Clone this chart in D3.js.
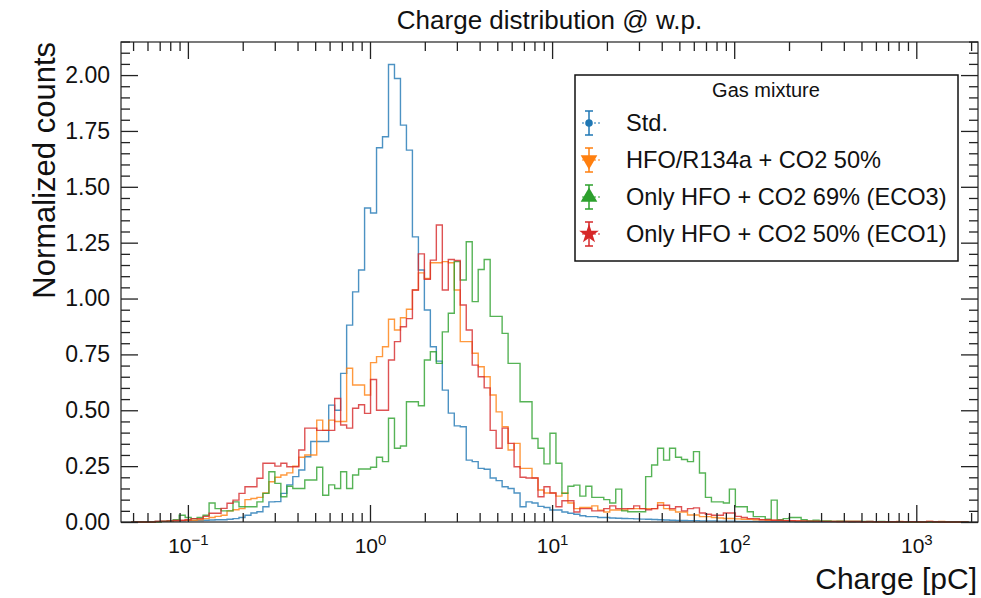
<!DOCTYPE html>
<html>
<head>
<meta charset="utf-8">
<script src="https://cdn.jsdelivr.net/npm/d3@7"></script>
<style>
  body { margin: 0; background: #fff; }
  svg text { font-family: "Liberation Sans", Arial, sans-serif; fill: #111; }
</style>
</head>
<body>
<div id="chart"></div>
<script>
// histogram binning (log10 of charge in pC)
var binLogStart = -1.3105;
var binLogStep = 0.03284;

var seriesNames = ["Std.", "HFO/R134a + CO2 50%", "Only HFO + CO2 69% (ECO3)", "Only HFO + CO2 50% (ECO1)"];
var seriesColors = ["#1f77b4", "#ff7f0e", "#2ca02c", "#d62728"];
var seriesMarkers = ["circle", "triangleDown", "triangleUp", "star"];

var yTicks = [0, 0.25, 0.5, 0.75, 1.0, 1.25, 1.5, 1.75, 2.0];
var xTickExps = [-1, 0, 1, 2, 3];

var stdCounts = [
  0, 0, 0, 0, 0.003, 0.003, 0.004, 0.005, 0.005, 0.006,
  0.006, 0.007, 0.008, 0.009, 0.01, 0.01, 0.012, 0.015, 0.02, 0.03,
  0.04, 0.046, 0.068, 0.09, 0.091, 0.128, 0.166, 0.203, 0.233, 0.292,
  0.36, 0.36, 0.36, 0.523, 0.50, 0.665, 0.881, 1.03, 1.128, 1.405,
  1.383, 1.675, 1.724, 2.047, 1.985, 1.776, 1.664, 1.276, 1.128, 0.949,
  0.784, 0.72, 0.59, 0.487, 0.43, 0.426, 0.277, 0.27, 0.24, 0.236,
  0.197, 0.185, 0.158, 0.15, 0.13, 0.068, 0.09, 0.085, 0.07, 0.065,
  0.054, 0.054, 0.045, 0.039, 0.035, 0.028, 0.024, 0.024, 0.02, 0.02,
  0.018, 0.017, 0.016, 0.015, 0.014, 0.013, 0.012, 0.011, 0.01, 0.009,
  0.008, 0.007, 0.007, 0.006, 0.006, 0.005, 0.005, 0.005, 0.004, 0.004,
  0.004, 0.003, 0.003, 0.003, 0.003, 0.002, 0.002, 0.002, 0.002, 0.002,
  0.002, 0.001, 0.001, 0.001, 0.001, 0.001, 0.001, 0.001, 0.001, 0.001,
  0, 0, 0, 0, 0, 0, 0, 0, 0, 0,
  0, 0, 0, 0, 0, 0, 0, 0, 0, 0
];

var hfoR134aCounts = [
  0, 0, 0, 0, 0.002, 0.003, 0.004, 0.005, 0.006, 0.008,
  0.008, 0.01, 0.015, 0.02, 0.025, 0.03, 0.05, 0.055, 0.06, 0.1,
  0.105, 0.11, 0.13, 0.18, 0.2, 0.21, 0.22, 0.25, 0.29, 0.3,
  0.3, 0.456, 0.41, 0.456, 0.45, 0.45, 0.688, 0.613, 0.613, 0.568,
  0.713, 0.74, 0.784, 0.907, 0.859, 0.914, 0.952, 1.038, 1.115, 1.09,
  1.16, 1.16, 1.165, 1.16, 1.038, 0.807, 0.807, 0.755, 0.695, 0.65,
  0.568, 0.493, 0.426, 0.322, 0.352, 0.24, 0.24, 0.197, 0.143, 0.13,
  0.13, 0.116, 0.13, 0.085, 0.06, 0.065, 0.065, 0.072, 0.053, 0.045,
  0.054, 0.054, 0.054, 0.06, 0.06, 0.06, 0.06, 0.06, 0.086, 0.06,
  0.054, 0.045, 0.045, 0.031, 0.031, 0.024, 0.024, 0.02, 0.018, 0.016,
  0.016, 0.014, 0.012, 0.012, 0.01, 0.01, 0.008, 0.008, 0.007, 0.006,
  0.005, 0.005, 0.004, 0.004, 0.003, 0.003, 0.003, 0.002, 0.002, 0.002,
  0.002, 0.002, 0.001, 0.001, 0.001, 0.001, 0.001, 0.001, 0.002, 0.001,
  0.001, 0.001, 0, 0.002, 0, 0.003, 0, 0, 0, 0
];

var eco3Counts = [
  0, 0, 0, 0, 0, 0.003, 0.005, 0.01, 0.03, 0.02,
  0.015, 0.02, 0.03, 0.085, 0.06, 0.05, 0.05, 0.09, 0.068, 0.068,
  0.068, 0.09, 0.128, 0.225, 0.173, 0.113, 0.16, 0.15, 0.15, 0.188,
  0.188, 0.245, 0.12, 0.166, 0.15, 0.225, 0.15, 0.21, 0.237, 0.237,
  0.245, 0.29, 0.27, 0.464, 0.33, 0.34, 0.538, 0.538, 0.52, 0.725,
  0.762, 0.71, 0.851, 0.934, 1.165, 1.083, 1.254, 0.986, 1.13, 1.175,
  0.92, 0.92, 0.844, 0.71, 0.71, 0.538, 0.538, 0.374, 0.33, 0.26,
  0.397, 0.263, 0.128, 0.16, 0.165, 0.116, 0.16, 0.11, 0.11, 0.1,
  0.085, 0.147, 0.05, 0.046, 0.046, 0.046, 0.203, 0.255, 0.33, 0.277,
  0.33, 0.29, 0.28, 0.27, 0.315, 0.219, 0.11, 0.09, 0.09, 0.085,
  0.147, 0.068, 0.068, 0.046, 0.024, 0.024, 0.013, 0.098, 0.01, 0.015,
  0.02, 0.02, 0.01, 0.005, 0.008, 0.005, 0.005, 0.003, 0.004, 0.003,
  0.002, 0.003, 0.002, 0.002, 0.001, 0.002, 0.001, 0.001, 0.001, 0,
  0, 0, 0, 0, 0, 0, 0, 0, 0, 0
];

var eco1Counts = [
  0, 0, 0, 0, 0.003, 0.004, 0.005, 0.007, 0.008, 0.01,
  0.015, 0.015, 0.025, 0.039, 0.039, 0.061, 0.084, 0.098, 0.128, 0.158,
  0.158, 0.196, 0.263, 0.263, 0.25, 0.263, 0.247, 0.247, 0.322, 0.42,
  0.42, 0.41, 0.41, 0.41, 0.553, 0.434, 0.42, 0.509, 0.525, 0.486,
  0.638, 0.5, 0.5, 0.725, 0.807, 0.874, 0.91, 1.038, 1.2, 1.086,
  1.172, 1.329, 1.038, 1.175, 1.17, 0.971, 0.859, 0.702, 0.65, 0.6,
  0.41, 0.33, 0.42, 0.352, 0.247, 0.2, 0.197, 0.197, 0.113, 0.158,
  0.13, 0.068, 0.095, 0.095, 0.045, 0.06, 0.06, 0.05, 0.05, 0.06,
  0.072, 0.06, 0.06, 0.06, 0.072, 0.06, 0.055, 0.06, 0.075, 0.075,
  0.06, 0.068, 0.05, 0.06, 0.063, 0.04, 0.035, 0.03, 0.03, 0.04,
  0.04, 0.025, 0.02, 0.015, 0.015, 0.01, 0.01, 0.008, 0.008, 0.006,
  0.006, 0.005, 0.005, 0.004, 0.004, 0.003, 0.003, 0.003, 0.002, 0.002,
  0.002, 0.002, 0.001, 0.002, 0.001, 0.001, 0.001, 0.001, 0.001, 0.001,
  0.001, 0.001, 0, 0.003, 0.001, 0, 0, 0, 0, 0
];

var allCounts = [stdCounts, hfoR134aCounts, eco3Counts, eco1Counts];

drawChart();

function drawChart() {
  var svgWidth = 981;
  var svgHeight = 598;
  var margin = {left: 121, right: 3, top: 42, bottom: 76};
  var width = svgWidth - margin.left - margin.right;
  var height = svgHeight - margin.top - margin.bottom;

  var svg = d3.select('#chart').append('svg')
    .attr('width', svgWidth).attr('height', svgHeight);

  var g = svg.append('g')
    .attr('transform', 'translate(' + margin.left + ',' + margin.top + ')');

  var x = d3.scaleLog().domain([0.04292, 2182]).range([0, width]);
  var y = d3.scaleLinear().domain([0, 2.148]).range([height, 0]);

  // bin edges from the binning constants
  var nBins = stdCounts.length;
  var edges = d3.range(nBins + 1).map(function(i) { return Math.pow(10, binLogStart + i * binLogStep); });

  var line = d3.line()
    .x(function(d) { return x(d[0]); })
    .y(function(d) { return y(d[1]); })
    .curve(d3.curveStepAfter);

  g.append('clipPath').attr('id', 'clip')
    .append('rect').attr('width', width).attr('height', height + 1);

  allCounts.forEach(function(counts, s) {
    var pts = [[edges[0], 0]];
    counts.forEach(function(v, i) { pts.push([edges[i], v]); });
    pts.push([edges[nBins], counts[nBins - 1]]);
    pts.push([edges[nBins], 0]);
    g.append('path')
      .attr('d', line(pts))
      .attr('clip-path', 'url(#clip)')
      .style('fill', 'none')
      .style('stroke', seriesColors[s])
      .style('stroke-width', 1.4)
      .style('stroke-opacity', 0.8);
  });

  // minor ticks
  var xMinor = [];
  xTickExps.concat([-2]).forEach(function(e) {
    for (var m = 2; m <= 9; m++) {
      var v = m * Math.pow(10, e);
      if (v > x.domain()[0] && v < x.domain()[1]) xMinor.push(v);
    }
  });
  var yMinor = d3.range(0, 2.16, 0.05).filter(function(v) {
    return Math.abs(v / 0.25 - Math.round(v / 0.25)) > 0.01;
  });

  var majorLen = 17, minorLen = 9;

  function styleAxis(sel) {
    sel.select('.domain').remove();
    sel.selectAll('.tick line').style('stroke', '#222').style('stroke-width', 1.3);
  }

  g.append('g').attr('transform', 'translate(0,' + height + ')')
    .call(d3.axisBottom(x).tickValues(xMinor).tickSize(-minorLen).tickFormat(''))
    .call(styleAxis);
  g.append('g')
    .call(d3.axisTop(x).tickValues(xMinor).tickSize(-minorLen).tickFormat(''))
    .call(styleAxis);
  g.append('g')
    .call(d3.axisTop(x).tickValues(xTickExps.map(function(e) { return Math.pow(10, e); })).tickSize(-majorLen).tickFormat(''))
    .call(styleAxis);

  var xMajor = g.append('g').attr('transform', 'translate(0,' + height + ')')
    .call(d3.axisBottom(x).tickValues(xTickExps.map(function(e) { return Math.pow(10, e); }))
      .tickSize(-majorLen).tickPadding(16).tickFormat(''))
    .call(styleAxis);

  xMajor.selectAll('.tick text').each(function(d, i) {
    var t = d3.select(this);
    t.style('font-size', '21px').attr('fill', '#111');
    t.append('tspan').text('10');
    t.append('tspan').attr('dy', '-0.55em').style('font-size', '15px')
      .text(xTickExps[i] < 0 ? '\u2212' + Math.abs(xTickExps[i]) : xTickExps[i]);
  });

  g.append('g')
    .call(d3.axisLeft(y).tickValues(yMinor).tickSize(-minorLen).tickFormat(''))
    .call(styleAxis);
  g.append('g').attr('transform', 'translate(' + width + ',0)')
    .call(d3.axisRight(y).tickValues(yMinor).tickSize(-minorLen).tickFormat(''))
    .call(styleAxis);
  g.append('g').attr('transform', 'translate(' + width + ',0)')
    .call(d3.axisRight(y).tickValues(yTicks).tickSize(-majorLen).tickFormat(''))
    .call(styleAxis);
  g.append('g')
    .call(d3.axisLeft(y).tickValues(yTicks).tickSize(-majorLen).tickPadding(11).tickFormat(d3.format('.2f')))
    .call(styleAxis)
    .selectAll('.tick text').style('font-size', '23px').attr('fill', '#111');

  // frame
  g.append('rect')
    .attr('width', width).attr('height', height)
    .style('fill', 'none').style('stroke', '#222').style('stroke-width', 1.2);

  // titles
  svg.append('text')
    .attr('x', margin.left + width / 2).attr('y', 29)
    .attr('text-anchor', 'middle').style('font-size', '26px')
    .text('Charge distribution @ w.p.');

  svg.append('text')
    .attr('x', margin.left + width - 1).attr('y', 589)
    .attr('text-anchor', 'end').style('font-size', '30px')
    .text('Charge [pC]');

  svg.append('text')
    .attr('transform', 'translate(55,' + margin.top + ') rotate(-90)')
    .attr('text-anchor', 'end').style('font-size', '31px')
    .text('Normalized counts');

  // legend
  var leg = svg.append('g').attr('transform', 'translate(575,75)');
  leg.append('rect').attr('width', 383).attr('height', 186)
    .style('fill', '#fff').style('stroke', '#111').style('stroke-width', 1.5);
  leg.append('text').attr('x', 191).attr('y', 22).attr('text-anchor', 'middle')
    .style('font-size', '20px').text('Gas mixture');

  var symbols = {
    circle: d3.symbol().type(d3.symbolCircle).size(45),
    triangleDown: d3.symbol().type(d3.symbolTriangle).size(120),
    triangleUp: d3.symbol().type(d3.symbolTriangle).size(120),
    star: d3.symbol().type(d3.symbolStar).size(120)
  };

  seriesNames.forEach(function(name, i) {
    var row = leg.append('g').attr('transform', 'translate(14,' + (48 + i * 37) + ')');
    var c = seriesColors[i];
    row.append('line').attr('x1', -7).attr('x2', 13).attr('y1', 0).attr('y2', 0)
      .style('stroke', c).style('stroke-width', 1).style('stroke-dasharray', '2,2');
    row.append('line').attr('x1', 0).attr('x2', 0).attr('y1', -12).attr('y2', 12)
      .style('stroke', c).style('stroke-width', 1.5);
    row.append('line').attr('x1', -4).attr('x2', 4).attr('y1', -12).attr('y2', -12)
      .style('stroke', c).style('stroke-width', 1.5);
    row.append('line').attr('x1', -4).attr('x2', 4).attr('y1', 12).attr('y2', 12)
      .style('stroke', c).style('stroke-width', 1.5);
    row.append('path').attr('d', symbols[seriesMarkers[i]]())
      .attr('transform', seriesMarkers[i] === 'triangleDown' ? 'rotate(180)' : null)
      .style('fill', c);
    row.append('text').attr('x', 37).attr('y', 8)
      .style('font-size', '23.6px').text(name);
  });
}
</script>
</body>
</html>
